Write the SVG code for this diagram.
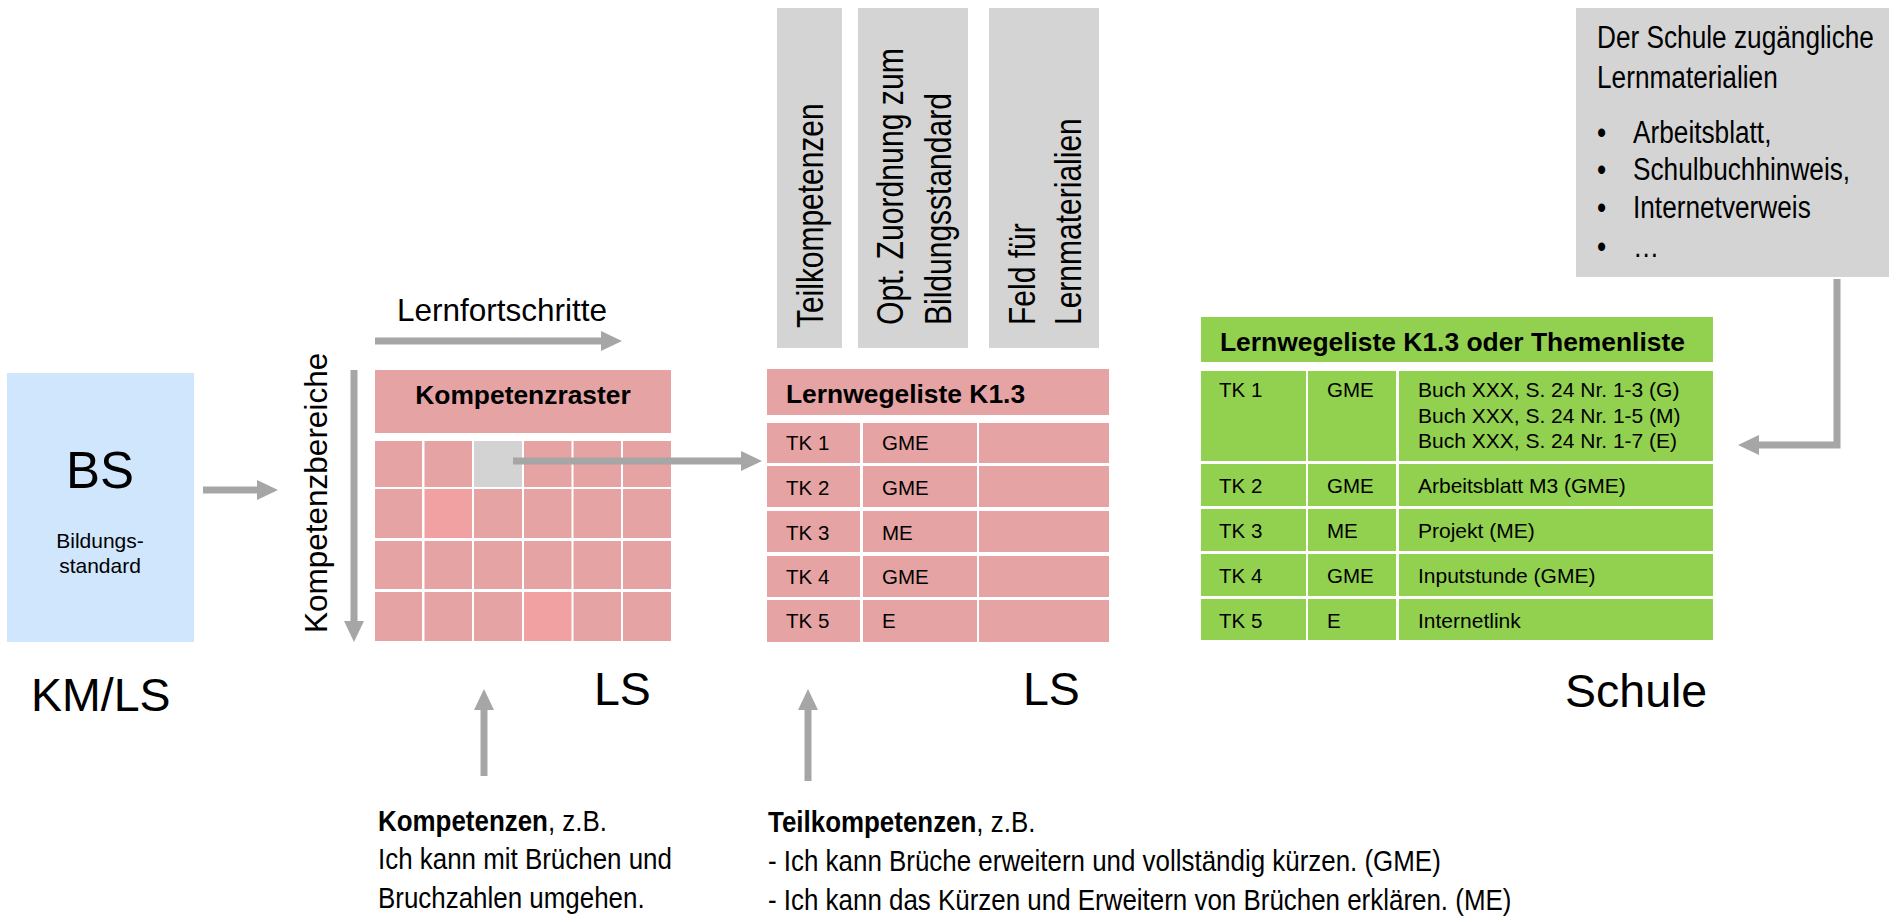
<svg xmlns="http://www.w3.org/2000/svg" width="1889" height="921" viewBox="0 0 1889 921">
<style>
text{font-family:"Liberation Sans",Arial,sans-serif;fill:#000}
.pink{fill:#E6A3A4}
.pink2{fill:#F2A1A3}
.grey{fill:#D4D4D4}
.green{fill:#92D050}
.hb{font-weight:bold;font-size:26.4px}
.cell{font-size:20.5px}
.big{font-size:46.5px}
.side{font-size:36.6px}
.note{font-size:29px}
.mat{font-size:31px}
.conn{stroke:#A6A6A6;stroke-width:7;fill:none}
</style>
<defs>
<marker id="ah" markerUnits="userSpaceOnUse" markerWidth="21" markerHeight="21" refX="0" refY="10" orient="auto" viewBox="0 0 21 20">
<path d="M0,0 L21,10 L0,20 z" fill="#A6A6A6"/>
</marker>
</defs>

<g id="bs">
<rect x="7" y="373" width="187" height="269" fill="#D0E6FC"/>
<text x="100" y="488" font-size="51" text-anchor="middle">BS</text>
<text x="100" y="548" font-size="21" text-anchor="middle">Bildungs-</text>
<text x="100" y="573" font-size="21" text-anchor="middle">standard</text>
</g>
<g id="label-kmls"><text x="31" y="711" class="big">KM/LS</text></g>

<g id="kompetenzraster">
<rect class="pink" x="375" y="370" width="296" height="63"/>
<text x="523" y="404" class="hb" text-anchor="middle">Kompetenzraster</text>
<g id="grid">
<rect class="pink" x="375" y="441" width="47" height="46"/>
<rect class="pink" x="424.5" y="441" width="47.5" height="46"/>
<rect class="grey" x="474" y="441" width="48" height="46" style="fill:#D3D3D3"/>
<rect class="pink" x="524" y="441" width="47.5" height="46"/>
<rect class="pink" x="573.5" y="441" width="47.5" height="46"/>
<rect class="pink" x="623" y="441" width="48" height="46"/>
<rect class="pink" x="375" y="489" width="47" height="49"/>
<rect class="pink2" x="424.5" y="489" width="47.5" height="49"/>
<rect class="pink" x="474" y="489" width="48" height="49"/>
<rect class="pink" x="524" y="489" width="47.5" height="49"/>
<rect class="pink" x="573.5" y="489" width="47.5" height="49"/>
<rect class="pink" x="623" y="489" width="48" height="49"/>
<rect class="pink" x="375" y="541" width="47" height="48"/>
<rect class="pink" x="424.5" y="541" width="47.5" height="48"/>
<rect class="pink" x="474" y="541" width="48" height="48"/>
<rect class="pink" x="524" y="541" width="47.5" height="48"/>
<rect class="pink" x="573.5" y="541" width="47.5" height="48"/>
<rect class="pink" x="623" y="541" width="48" height="48"/>
<rect class="pink" x="375" y="592" width="47" height="49"/>
<rect class="pink" x="424.5" y="592" width="47.5" height="49"/>
<rect class="pink" x="474" y="592" width="48" height="49"/>
<rect class="pink2" x="524" y="592" width="47.5" height="49"/>
<rect class="pink" x="573.5" y="592" width="47.5" height="49"/>
<rect class="pink" x="623" y="592" width="48" height="49"/>
</g>
</g>
<g id="label-lernfortschritte"><text x="397" y="321" font-size="31.5">Lernfortschritte</text></g>
<g id="label-kompetenzbereiche"><text transform="translate(327,633) rotate(-90)" font-size="31.5">Kompetenzbereiche</text></g>
<g id="label-ls1"><text x="594" y="705" class="big">LS</text></g>

<g id="col-teilkompetenzen">
<rect class="grey" x="777" y="8" width="65" height="340"/>
<text class="side" transform="translate(823,328) rotate(-90) scale(0.818,1)">Teilkompetenzen</text>
</g>
<g id="col-zuordnung">
<rect class="grey" x="858" y="8" width="110" height="340"/>
<text class="side" transform="translate(903,325) rotate(-90) scale(0.825,1)">Opt. Zuordnung zum</text>
<text class="side" transform="translate(951,325) rotate(-90) scale(0.82,1)">Bildungsstandard</text>
</g>
<g id="col-feld">
<rect class="grey" x="989" y="8" width="110" height="340"/>
<text class="side" transform="translate(1035,325) rotate(-90) scale(0.82,1)">Feld für</text>
<text class="side" transform="translate(1081,325) rotate(-90) scale(0.82,1)">Lernmaterialien</text>
</g>

<g id="lernwegeliste">
<rect class="pink" x="767" y="369" width="342" height="46"/>
<text x="786" y="403" class="hb">Lernwegeliste K1.3</text>
<rect class="pink" x="767" y="423" width="93" height="40"/><rect class="pink" x="863" y="423" width="114" height="40"/><rect class="pink" x="979" y="423" width="130" height="40"/>
<rect class="pink" x="767" y="466" width="93" height="41"/><rect class="pink" x="863" y="466" width="114" height="41"/><rect class="pink" x="979" y="466" width="130" height="41"/>
<rect class="pink" x="767" y="511" width="93" height="41"/><rect class="pink" x="863" y="511" width="114" height="41"/><rect class="pink" x="979" y="511" width="130" height="41"/>
<rect class="pink" x="767" y="556" width="93" height="41"/><rect class="pink" x="863" y="556" width="114" height="41"/><rect class="pink" x="979" y="556" width="130" height="41"/>
<rect class="pink" x="767" y="600" width="93" height="42"/><rect class="pink" x="863" y="600" width="114" height="42"/><rect class="pink" x="979" y="600" width="130" height="42"/>
<text class="cell" x="786" y="450">TK 1</text><text class="cell" x="882" y="450">GME</text>
<text class="cell" x="786" y="495">TK 2</text><text class="cell" x="882" y="495">GME</text>
<text class="cell" x="786" y="540">TK 3</text><text class="cell" x="882" y="540">ME</text>
<text class="cell" x="786" y="584">TK 4</text><text class="cell" x="882" y="584">GME</text>
<text class="cell" x="786" y="628">TK 5</text><text class="cell" x="882" y="628">E</text>
</g>
<g id="label-ls2"><text x="1023" y="705" class="big">LS</text></g>

<g id="lernmaterialien-box">
<rect class="grey" x="1576" y="8" width="313" height="269"/>
<text class="mat" transform="translate(1597,48) scale(0.846,1)">Der Schule zugängliche</text>
<text class="mat" transform="translate(1597,88) scale(0.846,1)">Lernmaterialien</text>
<text class="mat" transform="translate(1597,143) scale(0.846,1)">•</text>
<text class="mat" transform="translate(1633,143) scale(0.846,1)">Arbeitsblatt,</text>
<text class="mat" transform="translate(1597,180) scale(0.846,1)">•</text>
<text class="mat" transform="translate(1633,180) scale(0.846,1)">Schulbuchhinweis,</text>
<text class="mat" transform="translate(1597,218) scale(0.846,1)">•</text>
<text class="mat" transform="translate(1633,218) scale(0.846,1)">Internetverweis</text>
<text class="mat" transform="translate(1597,257) scale(0.846,1)">•</text>
<text class="mat" transform="translate(1633,257) scale(0.846,1)">…</text>
</g>

<g id="themenliste">
<rect class="green" x="1201" y="317" width="512" height="45"/>
<text x="1220" y="351" class="hb">Lernwegeliste K1.3 oder Themenliste</text>
<rect class="green" x="1201" y="371" width="105" height="90"/><rect class="green" x="1308" y="371" width="88" height="90"/><rect class="green" x="1399" y="371" width="314" height="90"/>
<rect class="green" x="1201" y="464" width="105" height="42"/><rect class="green" x="1308" y="464" width="88" height="42"/><rect class="green" x="1399" y="464" width="314" height="42"/>
<rect class="green" x="1201" y="509" width="105" height="42"/><rect class="green" x="1308" y="509" width="88" height="42"/><rect class="green" x="1399" y="509" width="314" height="42"/>
<rect class="green" x="1201" y="554" width="105" height="42"/><rect class="green" x="1308" y="554" width="88" height="42"/><rect class="green" x="1399" y="554" width="314" height="42"/>
<rect class="green" x="1201" y="599" width="105" height="41"/><rect class="green" x="1308" y="599" width="88" height="41"/><rect class="green" x="1399" y="599" width="314" height="41"/>
<text class="cell" x="1219" y="397">TK 1</text><text class="cell" x="1327" y="397">GME</text>
<text font-size="21" x="1418" y="397">Buch XXX, S. 24 Nr. 1-3 (G)</text>
<text font-size="21" x="1418" y="423">Buch XXX, S. 24 Nr. 1-5 (M)</text>
<text font-size="21" x="1418" y="448">Buch XXX, S. 24 Nr. 1-7 (E)</text>
<text class="cell" x="1219" y="493">TK 2</text><text class="cell" x="1327" y="493">GME</text><text font-size="21" x="1418" y="493">Arbeitsblatt M3 (GME)</text>
<text class="cell" x="1219" y="538">TK 3</text><text class="cell" x="1327" y="538">ME</text><text font-size="21" x="1418" y="538">Projekt (ME)</text>
<text class="cell" x="1219" y="583">TK 4</text><text class="cell" x="1327" y="583">GME</text><text font-size="21" x="1418" y="583">Inputstunde (GME)</text>
<text class="cell" x="1219" y="628">TK 5</text><text class="cell" x="1327" y="628">E</text><text font-size="21" x="1418" y="628">Internetlink</text>
</g>
<g id="label-schule"><text x="1565" y="707" class="big">Schule</text></g>

<g id="note-kompetenzen">
<text class="note" transform="translate(378,831) scale(0.894,1)"><tspan font-weight="bold">Kompetenzen</tspan>, z.B.</text>
<text class="note" transform="translate(378,869) scale(0.894,1)">Ich kann mit Brüchen und</text>
<text class="note" transform="translate(378,908) scale(0.894,1)">Bruchzahlen umgehen.</text>
</g>
<g id="note-teilkompetenzen">
<text class="note" transform="translate(768,832) scale(0.894,1)"><tspan font-weight="bold">Teilkompetenzen</tspan>, z.B.</text>
<text class="note" transform="translate(768,871) scale(0.894,1)">- Ich kann Brüche erweitern und vollständig kürzen. (GME)</text>
<text class="note" transform="translate(768,910) scale(0.894,1)">- Ich kann das Kürzen und Erweitern von Brüchen erklären. (ME)</text>
</g>

<g id="connectors">
<path class="conn" d="M203,490 H257" marker-end="url(#ah)"/>
<path class="conn" d="M375,341 H601" marker-end="url(#ah)"/>
<path class="conn" d="M354,370 V621" marker-end="url(#ah)"/>
<path class="conn" d="M513,461 H741" marker-end="url(#ah)"/>
<path class="conn" d="M484,776 V710" marker-end="url(#ah)"/>
<path class="conn" d="M808,781 V710" marker-end="url(#ah)"/>
<path class="conn" d="M1837,279 V445 H1759" marker-end="url(#ah)"/>
</g>
</svg>
